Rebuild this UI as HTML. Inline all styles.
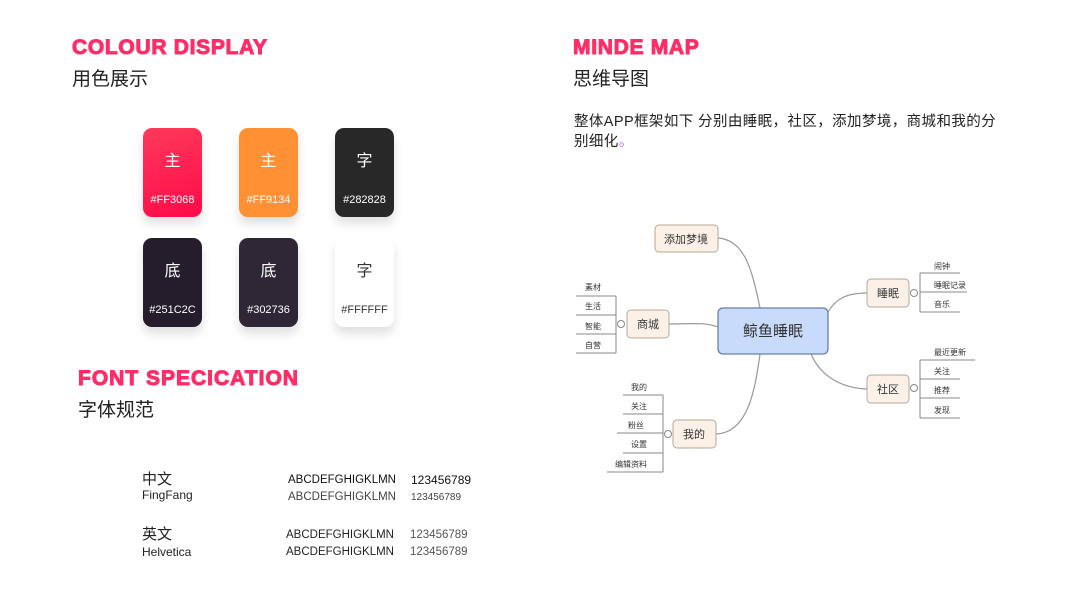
<!DOCTYPE html>
<html><head><meta charset="utf-8"><style>
body{margin:0;width:1067px;height:600px;background:#fff;position:relative;overflow:hidden;font-family:"Liberation Sans","Noto Sans CJK SC",sans-serif;}
.a{position:absolute;white-space:nowrap;}
.t{color:#ff2d67;font-weight:900;font-size:21px;letter-spacing:0.7px;-webkit-text-stroke:1px #ff2d67;}
.st{font-size:19px;color:#222;}
.card{position:absolute;width:59px;height:89px;border-radius:9px;box-shadow:0 7px 10px rgba(0,0,0,0.12);color:#fff;text-align:center;}
.card .c{position:absolute;top:19px;width:100%;font-size:16px;}
.card .h{position:absolute;top:66px;width:100%;font-size:11px;}
</style></head><body>
<div class="a t" style="left:72px;top:36px;">COLOUR DISPLAY</div>
<div class="a st" style="left:72px;top:64px;">用色展示</div>
<div class="a t" style="left:78px;top:367px;letter-spacing:1.0px;">FONT SPECICATION</div>
<div class="a st" style="left:78px;top:395px;">字体规范</div>
<div class="a t" style="left:573px;top:36px;">MINDE MAP</div>
<div class="a st" style="left:573px;top:64px;">思维导图</div>
<div class="a" style="left:574px;top:112px;font-size:14.5px;letter-spacing:0.4px;color:#222;line-height:20px;">整体APP框架如下 分别由睡眠，社区，添加梦境，商城和我的分<br>别细化<span style="color:#c6f">。</span></div>

<div class="card" style="left:143px;top:128px;background:linear-gradient(160deg,#ff3a5c,#ff0a48);"><div class="c">主</div><div class="h">#FF3068</div></div>
<div class="card" style="left:239px;top:128px;background:#ff9134;"><div class="c">主</div><div class="h">#FF9134</div></div>
<div class="card" style="left:335px;top:128px;background:#282828;"><div class="c">字</div><div class="h">#282828</div></div>
<div class="card" style="left:143px;top:238px;background:#251c2c;"><div class="c">底</div><div class="h">#251C2C</div></div>
<div class="card" style="left:239px;top:238px;background:#302736;"><div class="c">底</div><div class="h">#302736</div></div>
<div class="card" style="left:335px;top:238px;background:#fff;color:#333;"><div class="c">字</div><div class="h">#FFFFFF</div></div>

<div class="a" style="left:142px;top:468px;font-size:15px;color:#222;">中文</div>
<div class="a" style="left:142px;top:488px;font-size:12px;color:#222;">FingFang</div>
<div class="a" style="left:288px;top:474px;font-size:11.5px;color:#111;">ABCDEFGHIGKLMN</div>
<div class="a" style="left:411px;top:473px;font-size:12px;color:#111;">123456789</div>
<div class="a" style="left:288px;top:491px;font-size:11.5px;color:#444;">ABCDEFGHIGKLMN</div>
<div class="a" style="left:411px;top:492px;font-size:10px;color:#444;">123456789</div>
<div class="a" style="left:142px;top:523px;font-size:15px;color:#222;">英文</div>
<div class="a" style="left:142px;top:545px;font-size:12px;color:#222;">Helvetica</div>
<div class="a" style="left:286px;top:529px;font-size:11.5px;color:#222;">ABCDEFGHIGKLMN</div>
<div class="a" style="left:410px;top:529px;font-size:11.5px;color:#555;">123456789</div>
<div class="a" style="left:286px;top:546px;font-size:11.5px;color:#222;">ABCDEFGHIGKLMN</div>
<div class="a" style="left:410px;top:546px;font-size:11.5px;color:#555;">123456789</div>

<svg class="a" style="left:0;top:0" width="1067" height="600" font-family="Liberation Sans,Noto Sans CJK SC,sans-serif">
<g fill="none" stroke="#999" stroke-width="1.2">
<path d="M718 238 C745 240 752 270 760 308"/>
<path d="M669 324 C690 324 705 322 718 327"/>
<path d="M828 312 C835 300 845 293 867 293"/>
<path d="M811 354 C820 375 840 388 867 389"/>
<path d="M760 354 C755 390 748 433 716 434"/>
</g>
<g fill="none" stroke="#888" stroke-width="1">
<path d="M920 273 H960 M920 273 V312 M920 292 H967 M920 312 H960"/>
<circle cx="914" cy="293" r="3.5" fill="#fff"/>
<path d="M576 296 H616 M576 315 H616 M576 334 H616 M576 353 H616 M616 296 V353"/>
<circle cx="621" cy="324" r="3.5" fill="#fff"/>
<path d="M623 395 H663 M623 414 H663 M617 433 H663 M623 453 H663 M607 472 H663 M663 395 V472"/>
<circle cx="668" cy="434" r="3.5" fill="#fff"/>
<path d="M920 360 H975 M920 379 H960 M920 398 H960 M920 418 H960 M920 360 V418"/>
<circle cx="914" cy="388" r="3.5" fill="#fff"/>
</g>
<g stroke="#b5a89a" fill="#fcf1e7" stroke-width="1">
<rect x="655" y="225" width="63" height="27" rx="4"/>
<rect x="867" y="279" width="42" height="28" rx="4"/>
<rect x="627" y="310" width="42" height="28" rx="4"/>
<rect x="867" y="375" width="42" height="28" rx="4"/>
<rect x="673" y="420" width="43" height="28" rx="4"/>
</g>
<rect x="718" y="308" width="110" height="46" rx="5" fill="#c8dbfb" stroke="#6a7fa8" stroke-width="1.3"/>
<g fill="#333" font-size="11" text-anchor="middle">
<text x="686" y="243">添加梦境</text>
<text x="888" y="297">睡眠</text>
<text x="648" y="328">商城</text>
<text x="888" y="393">社区</text>
<text x="694" y="438">我的</text>
<text x="773" y="336" font-size="15" fill="#333">鲸鱼睡眠</text>
</g>
<g fill="#333" font-size="8">
<text x="934" y="269">闹钟</text><text x="934" y="288">睡眠记录</text><text x="934" y="307">音乐</text>
<text x="585" y="290">素材</text><text x="585" y="309">生活</text><text x="585" y="329">智能</text><text x="585" y="348">自营</text>
<text x="631" y="390">我的</text><text x="631" y="409">关注</text><text x="628" y="428">粉丝</text><text x="631" y="447">设置</text><text x="615" y="467">编辑资料</text>
<text x="934" y="355">最近更新</text><text x="934" y="374">关注</text><text x="934" y="393">推荐</text><text x="934" y="413">发现</text>
</g>
</svg>
</body></html>
